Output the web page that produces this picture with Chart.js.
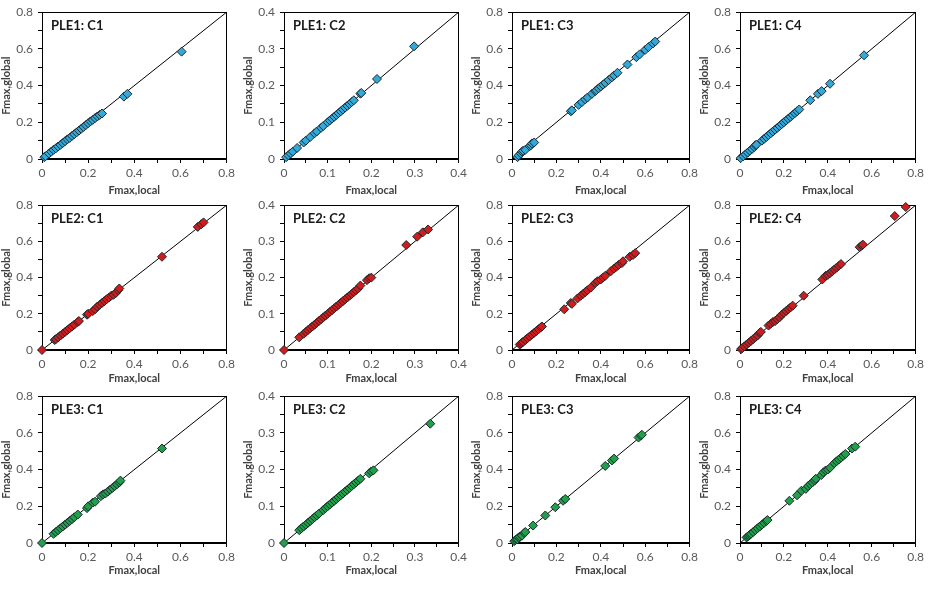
<!DOCTYPE html>
<html>
<head>
<meta charset="utf-8">
<title>Fmax local vs global</title>
<script src="https://cdn.jsdelivr.net/npm/chart.js@4.4.1/dist/chart.umd.min.js"></script>
<style>
  body { margin: 0; background: #fff; }
  #wrap { position: relative; width: 928px; height: 596px; overflow: hidden; }
  #wrap canvas { position: absolute; }
</style>
</head>
<body>
<div id="wrap"></div>
<script>
"use strict";

// Fmax,local (eje x) y Fmax,global (eje y) de cada panel
const ple1c1Local  = [0.01, 0.015, 0.03, 0.04, 0.05, 0.06, 0.07, 0.08, 0.09, 0.10, 0.11, 0.12, 0.13, 0.14, 0.15, 0.16, 0.17, 0.18, 0.19, 0.20, 0.21, 0.22, 0.23, 0.24, 0.25, 0.26, 0.355, 0.37, 0.605];
const ple1c1Global = [0.01, 0.015, 0.03, 0.04, 0.05, 0.058, 0.068, 0.077, 0.087, 0.097, 0.107, 0.115, 0.126, 0.135, 0.145, 0.155, 0.165, 0.175, 0.185, 0.195, 0.205, 0.213, 0.223, 0.232, 0.24, 0.248, 0.34, 0.355, 0.585];

const ple1c2Local  = [0.005, 0.01, 0.015, 0.02, 0.03, 0.045, 0.05, 0.06, 0.07, 0.075, 0.085, 0.09, 0.10, 0.105, 0.11, 0.115, 0.12, 0.125, 0.13, 0.135, 0.14, 0.145, 0.15, 0.155, 0.16, 0.175, 0.177, 0.213, 0.298];
const ple1c2Global = [0.005, 0.01, 0.015, 0.02, 0.03, 0.045, 0.05, 0.06, 0.07, 0.075, 0.085, 0.09, 0.10, 0.105, 0.11, 0.115, 0.12, 0.125, 0.13, 0.135, 0.14, 0.145, 0.15, 0.155, 0.16, 0.178, 0.18, 0.218, 0.307];

const ple1c3Local  = [0.025, 0.03, 0.04, 0.045, 0.05, 0.06, 0.08, 0.085, 0.09, 0.10, 0.265, 0.27, 0.30, 0.315, 0.33, 0.34, 0.36, 0.375, 0.38, 0.39, 0.40, 0.41, 0.42, 0.435, 0.45, 0.46, 0.475, 0.52, 0.56, 0.575, 0.60, 0.615, 0.635, 0.645];
const ple1c3Global = [0.01, 0.02, 0.03, 0.04, 0.045, 0.05, 0.07, 0.075, 0.085, 0.09, 0.26, 0.265, 0.295, 0.31, 0.325, 0.335, 0.355, 0.37, 0.375, 0.385, 0.395, 0.405, 0.415, 0.43, 0.445, 0.455, 0.47, 0.515, 0.555, 0.57, 0.595, 0.61, 0.63, 0.64];

const ple1c4Local  = [0.003, 0.015, 0.025, 0.035, 0.045, 0.055, 0.065, 0.07, 0.075, 0.10, 0.11, 0.12, 0.13, 0.14, 0.15, 0.16, 0.17, 0.18, 0.19, 0.20, 0.21, 0.22, 0.23, 0.24, 0.25, 0.26, 0.27, 0.32, 0.355, 0.372, 0.41, 0.565];
const ple1c4Global = [0.005, 0.015, 0.025, 0.035, 0.045, 0.055, 0.065, 0.075, 0.078, 0.10, 0.11, 0.12, 0.13, 0.14, 0.15, 0.16, 0.17, 0.18, 0.19, 0.20, 0.21, 0.22, 0.23, 0.24, 0.25, 0.26, 0.27, 0.32, 0.355, 0.37, 0.41, 0.565];

const ple2c1Local  = [0, 0.055, 0.06, 0.07, 0.08, 0.09, 0.10, 0.11, 0.12, 0.13, 0.14, 0.155, 0.16, 0.195, 0.20, 0.22, 0.23, 0.24, 0.25, 0.26, 0.27, 0.28, 0.29, 0.30, 0.31, 0.32, 0.33, 0.335, 0.52, 0.675, 0.69, 0.70];
const ple2c1Global = [0, 0.055, 0.06, 0.07, 0.08, 0.09, 0.10, 0.11, 0.12, 0.13, 0.14, 0.155, 0.16, 0.195, 0.20, 0.215, 0.225, 0.24, 0.25, 0.26, 0.27, 0.28, 0.29, 0.30, 0.305, 0.315, 0.33, 0.34, 0.515, 0.68, 0.695, 0.705];

const ple2c2Local  = [0, 0.035, 0.045, 0.05, 0.055, 0.06, 0.065, 0.07, 0.075, 0.08, 0.085, 0.09, 0.095, 0.10, 0.105, 0.11, 0.115, 0.12, 0.125, 0.13, 0.135, 0.14, 0.145, 0.15, 0.155, 0.16, 0.165, 0.17, 0.175, 0.19, 0.195, 0.20, 0.28, 0.305, 0.318, 0.33];
const ple2c2Global = [0, 0.035, 0.045, 0.05, 0.055, 0.06, 0.065, 0.07, 0.075, 0.08, 0.085, 0.09, 0.095, 0.10, 0.105, 0.11, 0.115, 0.12, 0.125, 0.13, 0.135, 0.14, 0.145, 0.15, 0.155, 0.16, 0.165, 0.17, 0.178, 0.193, 0.198, 0.20, 0.29, 0.313, 0.325, 0.333];

const ple2c3Local  = [0.035, 0.04, 0.045, 0.05, 0.06, 0.07, 0.08, 0.09, 0.10, 0.11, 0.12, 0.13, 0.135, 0.235, 0.265, 0.27, 0.295, 0.31, 0.32, 0.33, 0.34, 0.355, 0.375, 0.385, 0.40, 0.41, 0.42, 0.445, 0.46, 0.47, 0.48, 0.495, 0.50, 0.53, 0.545, 0.555];
const ple2c3Global = [0.03, 0.035, 0.04, 0.045, 0.055, 0.065, 0.075, 0.085, 0.095, 0.105, 0.115, 0.125, 0.13, 0.225, 0.26, 0.255, 0.285, 0.30, 0.31, 0.32, 0.33, 0.345, 0.37, 0.38, 0.39, 0.40, 0.41, 0.435, 0.45, 0.46, 0.47, 0.48, 0.49, 0.515, 0.525, 0.535];

const ple2c4Local  = [0.005, 0.01, 0.02, 0.03, 0.04, 0.05, 0.06, 0.07, 0.08, 0.09, 0.095, 0.13, 0.14, 0.15, 0.16, 0.17, 0.18, 0.19, 0.20, 0.21, 0.22, 0.23, 0.24, 0.29, 0.375, 0.39, 0.40, 0.41, 0.42, 0.43, 0.44, 0.45, 0.46, 0.545, 0.555, 0.56, 0.705, 0.755];
const ple2c4Global = [0.005, 0.01, 0.02, 0.03, 0.04, 0.05, 0.06, 0.07, 0.08, 0.095, 0.10, 0.135, 0.145, 0.155, 0.16, 0.17, 0.18, 0.195, 0.205, 0.215, 0.225, 0.235, 0.245, 0.30, 0.39, 0.41, 0.415, 0.425, 0.435, 0.445, 0.455, 0.465, 0.475, 0.568, 0.578, 0.582, 0.74, 0.79];

const ple3c1Local  = [0, 0.05, 0.06, 0.07, 0.08, 0.09, 0.10, 0.11, 0.12, 0.13, 0.14, 0.155, 0.195, 0.20, 0.22, 0.23, 0.255, 0.265, 0.275, 0.285, 0.295, 0.305, 0.315, 0.325, 0.335, 0.34, 0.52];
const ple3c1Global = [0, 0.05, 0.06, 0.07, 0.08, 0.09, 0.10, 0.11, 0.12, 0.13, 0.14, 0.155, 0.19, 0.20, 0.22, 0.225, 0.255, 0.265, 0.27, 0.28, 0.29, 0.30, 0.31, 0.32, 0.33, 0.34, 0.515];

const ple3c2Local  = [0, 0.035, 0.04, 0.045, 0.05, 0.055, 0.06, 0.065, 0.07, 0.075, 0.08, 0.09, 0.095, 0.10, 0.105, 0.11, 0.115, 0.12, 0.125, 0.13, 0.135, 0.14, 0.145, 0.15, 0.155, 0.16, 0.165, 0.17, 0.175, 0.195, 0.20, 0.205, 0.335];
const ple3c2Global = [0, 0.035, 0.04, 0.045, 0.05, 0.055, 0.06, 0.065, 0.07, 0.075, 0.08, 0.09, 0.095, 0.10, 0.105, 0.11, 0.115, 0.12, 0.125, 0.13, 0.135, 0.14, 0.145, 0.15, 0.155, 0.16, 0.165, 0.17, 0.175, 0.19, 0.195, 0.198, 0.325];

const ple3c3Local  = [0.01, 0.015, 0.02, 0.025, 0.03, 0.035, 0.045, 0.055, 0.06, 0.095, 0.15, 0.195, 0.23, 0.24, 0.42, 0.45, 0.46, 0.57, 0.58, 0.585];
const ple3c3Global = [0.01, 0.015, 0.02, 0.02, 0.03, 0.035, 0.04, 0.055, 0.06, 0.095, 0.15, 0.195, 0.23, 0.24, 0.42, 0.45, 0.46, 0.575, 0.585, 0.59];

const ple3c4Local  = [0.03, 0.035, 0.04, 0.045, 0.05, 0.06, 0.07, 0.08, 0.09, 0.10, 0.11, 0.12, 0.125, 0.225, 0.26, 0.28, 0.30, 0.31, 0.32, 0.33, 0.34, 0.345, 0.37, 0.38, 0.39, 0.40, 0.41, 0.43, 0.44, 0.45, 0.46, 0.47, 0.48, 0.51, 0.525];
const ple3c4Global = [0.03, 0.035, 0.04, 0.045, 0.05, 0.06, 0.07, 0.08, 0.09, 0.10, 0.11, 0.12, 0.125, 0.23, 0.26, 0.285, 0.295, 0.31, 0.32, 0.33, 0.34, 0.35, 0.37, 0.385, 0.395, 0.40, 0.41, 0.435, 0.445, 0.455, 0.465, 0.475, 0.485, 0.515, 0.525];

// Titulos de los paneles (fila = PLE, columna = C)
const panelTitles = [
  ["PLE1: C1", "PLE1: C2", "PLE1: C3", "PLE1: C4"],
  ["PLE2: C1", "PLE2: C2", "PLE2: C3", "PLE2: C4"],
  ["PLE3: C1", "PLE3: C2", "PLE3: C3", "PLE3: C4"]
];
const panelLocal = [
  [ple1c1Local, ple1c2Local, ple1c3Local, ple1c4Local],
  [ple2c1Local, ple2c2Local, ple2c3Local, ple2c4Local],
  [ple3c1Local, ple3c2Local, ple3c3Local, ple3c4Local]
];
const panelGlobal = [
  [ple1c1Global, ple1c2Global, ple1c3Global, ple1c4Global],
  [ple2c1Global, ple2c2Global, ple2c3Global, ple2c4Global],
  [ple3c1Global, ple3c2Global, ple3c3Global, ple3c4Global]
];

// Ejes: maximo y paso de etiquetas por columna
const axisMax = [0.8, 0.4, 0.8, 0.8];
const labelStep = [0.2, 0.1, 0.2, 0.2];
const xTitle = "Fmax,local";
const yTitle = "Fmax,global";

// Colores por fila
const rowColors = ["#33a9da", "#d01c1c", "#21a04b"];

// Area de trazado de cada panel (px)
const colLeft = [42, 284, 512, 740];
const colRight = [228, 460, 691, 917];
const rowTop = [10, 203, 394];
const rowBottom = [159, 350, 543];
const xAxisHeight = [38, 35, 34];
const yAxisWidth = 42;
const padTop = 10;
const padRight = 10;

const FONT = "Lato, 'Open Sans', sans-serif";
Chart.defaults.font.family = FONT;

// Marco completo y titulo dentro del area
const framePlugin = {
  id: "frame",
  beforeDatasetsDraw(chart) {
    const { ctx, chartArea: a } = chart;
    ctx.save();
    ctx.strokeStyle = "#000";
    ctx.lineWidth = 1;
    ctx.strokeRect(Math.round(a.left) + 0.5, Math.round(a.top) + 0.5,
      Math.round(a.right - a.left) - 1, Math.round(a.bottom - a.top) - 1);
    ctx.restore();
  },
  afterDraw(chart, args, opts) {
    const { ctx, chartArea: a } = chart;
    ctx.save();
    ctx.fillStyle = "#1a1a1a";
    ctx.font = "bold 13px " + FONT;
    ctx.textBaseline = "middle";
    ctx.fillText(opts.text, a.left + 9, a.top + 14);
    ctx.restore();
  }
};

const wrap = document.getElementById("wrap");

for (let r = 0; r < 3; r++) {
  for (let c = 0; c < 4; c++) {
    const max = axisMax[c];
    const major = labelStep[c];
    const plotW = colRight[c] - colLeft[c];
    const plotH = rowBottom[r] - rowTop[r];
    const xh = xAxisHeight[r];

    const canvas = document.createElement("canvas");
    canvas.width = plotW + yAxisWidth + padRight;
    canvas.height = plotH + padTop + xh;
    canvas.style.left = (colLeft[c] - yAxisWidth) + "px";
    canvas.style.top = (rowTop[r] - padTop) + "px";
    wrap.appendChild(canvas);

    const puntos = panelLocal[r][c].map((x, i) => ({ x: x, y: panelGlobal[r][c][i] }));

    const tickLabel = (v) => {
      const k = v / major;
      if (Math.abs(k - Math.round(k)) > 1e-6) return "";
      return v === 0 ? "0" : v.toFixed(1);
    };

    const ticks = {
      stepSize: max / 8,
      autoSkip: false,
      maxRotation: 0,
      color: "#595959",
      font: { size: 12 },
      callback: tickLabel
    };
    const grid = { drawOnChartArea: false, tickLength: 4, color: "#000" };

    new Chart(canvas, {
      type: "scatter",
      data: {
        datasets: [
          {
            data: puntos,
            pointStyle: "rectRot",
            pointRadius: 4.5,
            pointBackgroundColor: rowColors[r],
            pointBorderColor: "#1c2a30",
            pointBorderWidth: 1,
            clip: false,
            order: 0
          },
          {
            data: [{ x: 0, y: 0 }, { x: max, y: max }],
            showLine: true,
            borderColor: "#000",
            borderWidth: 1,
            pointRadius: 0,
            order: 1
          }
        ]
      },
      options: {
        responsive: false,
        animation: false,
        layout: { padding: { top: padTop, right: padRight, left: 0, bottom: 0 } },
        plugins: {
          legend: { display: false },
          tooltip: { enabled: false },
          frame: { text: panelTitles[r][c] }
        },
        scales: {
          x: {
            type: "linear",
            min: 0,
            max: max,
            ticks: Object.assign({ padding: 3 }, ticks),
            grid: grid,
            border: { color: "#000" },
            title: {
              display: true,
              text: xTitle,
              color: "#404040",
              font: { size: 11, weight: "bold" },
              padding: 0
            },
            afterFit: (s) => { s.height = xh; }
          },
          y: {
            type: "linear",
            min: 0,
            max: max,
            ticks: Object.assign({ padding: 5 }, ticks),
            grid: grid,
            border: { color: "#000" },
            title: {
              display: true,
              text: yTitle,
              color: "#404040",
              font: { size: 11, weight: "bold" },
              padding: 0
            },
            afterFit: (s) => { s.width = yAxisWidth; }
          }
        }
      },
      plugins: [framePlugin]
    });
  }
}
</script>
</body>
</html>
